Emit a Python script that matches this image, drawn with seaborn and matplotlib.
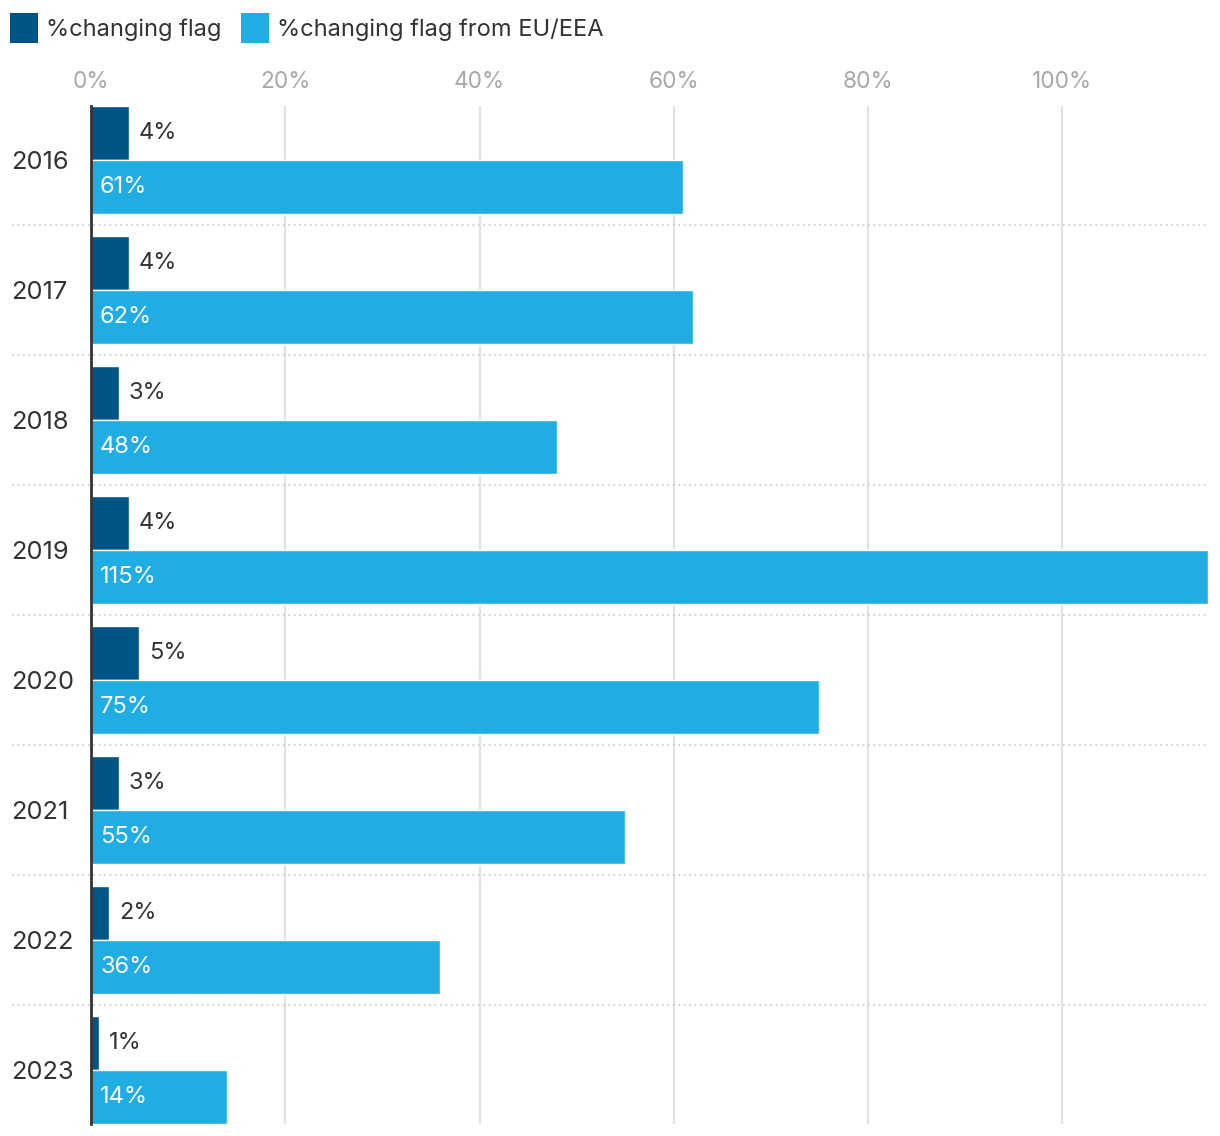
import pandas as pd
import seaborn as sns
import matplotlib.pyplot as plt
from matplotlib.patches import Patch
from matplotlib.ticker import FuncFormatter

years = ['2016', '2017', '2018', '2019', '2020', '2021', '2022', '2023']
changing_flag = [3.9, 3.9, 2.9, 3.9, 4.95, 2.9, 1.86, 0.82]
changing_flag_eu = [61, 62, 48, 115, 75, 55, 35.9, 14]
series_names = ['%changing flag', '%changing flag from EU/EEA']
colors = ['#005587', '#20ADE4']
x_ticks = [0, 20, 40, 60, 80, 100]


def main():
    df = pd.DataFrame({
        'Year': years * 2,
        'Value': changing_flag + changing_flag_eu,
        'Series': [series_names[0]] * len(years) + [series_names[1]] * len(years),
    })

    sns.set_style('white')
    plt.rcParams['font.family'] = ['Inter', 'DejaVu Sans']

    fig = plt.figure(figsize=(12.2, 11.36), dpi=100)
    ax = fig.add_axes([91 / 1220, 12 / 1136, 1117 / 1220, 1018 / 1136])

    sns.barplot(data=df, y='Year', x='Value', hue='Series', orient='h',
                palette=colors, width=0.83, saturation=1, ax=ax,
                legend=False, zorder=2)

    ax.set_xlim(0, 115)
    ax.set_ylim(len(years) - 0.585, -0.415)

    # grid + spines
    ax.set_xticks(x_ticks)
    ax.xaxis.set_major_formatter(FuncFormatter(lambda v, p: f'{v:.0f}%'))
    ax.xaxis.tick_top()
    ax.tick_params(axis='x', length=0, pad=9, labelsize=16.3, labelcolor='#a8a8a8')
    ax.tick_params(axis='y', length=0, pad=57.5, labelsize=18.3, labelcolor='#333333')
    for lab in ax.get_yticklabels():
        lab.set_ha('left')
    ax.grid(axis='x', color='#e2e2e2', linewidth=1.6, zorder=0)
    ax.set_axisbelow(True)
    for s in ['top', 'right', 'bottom']:
        ax.spines[s].set_visible(False)
    ax.spines['left'].set_color('#333333')
    ax.spines['left'].set_linewidth(2)
    ax.spines['left'].set_zorder(5)
    ax.set_xlabel('')
    ax.set_ylabel('')

    # dotted separators between years
    for i in range(len(years) - 1):
        ax.plot([-79 / 1117, 1], [i + 0.5, i + 0.5],
                transform=ax.get_yaxis_transform(), clip_on=False,
                color='#cfcfcf', linestyle=(0, (1, 2)), linewidth=1.3, zorder=1)

    # value labels
    ax.bar_label(ax.containers[0], labels=[f'{v:.0f}%' for v in changing_flag],
                 padding=7, fontsize=17, color='#333333')
    for bar, v in zip(ax.containers[1], changing_flag_eu):
        ax.annotate(f'{v:.0f}%', xy=(0, bar.get_y() + bar.get_height() / 2),
                    xytext=(6.5, 0), textcoords='offset points',
                    ha='left', va='center', fontsize=17, color='white', zorder=6)

    handles = [Patch(facecolor=c, edgecolor='none') for c in colors]
    fig.legend(handles, series_names, loc='upper left',
               bbox_to_anchor=(0.004, 0.9926), ncol=2, frameon=False,
               fontsize=17, labelcolor='#333333', handlelength=1.19,
               handleheight=1.55, handletextpad=0.34, columnspacing=0.85,
               borderaxespad=0.0, borderpad=0.2)

    fig.savefig('out.png', dpi=100)
    plt.close(fig)


if __name__ == '__main__':
    main()
